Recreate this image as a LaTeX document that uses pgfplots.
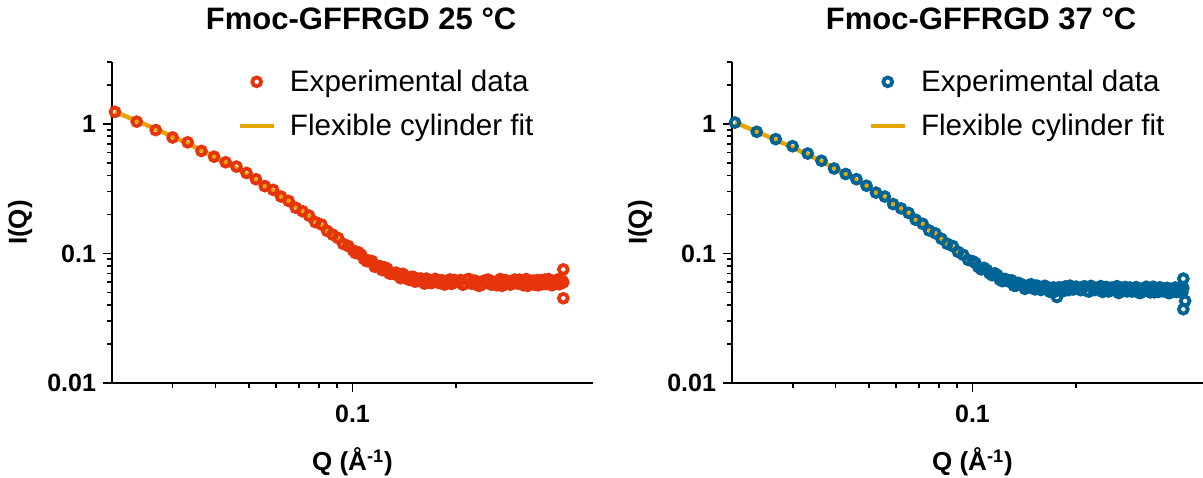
\documentclass[border=0pt]{standalone}
\usepackage{fontspec}
\setmainfont{Liberation Sans}
\usepackage{pgfplots}
\usepackage{pgfplotstable}
\pgfplotsset{compat=1.18}
\definecolor{expred}{RGB}{230,52,12}
\definecolor{expblue}{RGB}{0,100,150}
\definecolor{fitgold}{RGB}{230,165,0}
\pgfdeclareplotmark{ring}{%
  \pgfsetlinewidth{1.9pt}%
  \pgfpathcircle{\pgfpointorigin}{\pgfplotmarksize}%
  \pgfusepathqstroke}

\pgfplotstableread{
Q I fit
0.0204 1.237 1.239
0.0236 1.040 1.055
0.0268 0.895 0.9122
0.0300 0.785 0.7982
0.0332 0.720 0.7044
0.0364 0.618 0.6258
0.0396 0.558 0.5590
0.0428 0.505 0.5013
0.0460 0.468 0.4512
0.0492 0.418 0.4073
0.0524 0.3739 0.3684
0.0556 0.3307 0.3340
0.0588 0.3095 0.3034
0.0620 0.2748 0.2762
0.0652 0.2542 0.2517
0.0684 0.2253 0.2299
0.0716 0.2115 0.2104
0.0748 0.1958 0.1929
0.0780 0.1745 0.1772
0.0812 0.1673 0.1632
0.0844 0.1492 0.1507
0.0876 0.1395 0.1395
0.0908 0.1315 0.1296
0.0940 0.1184 0.1208
0.0972 0.1140 0.1129
0.1004 0.1055 0.1060
0.104 0.1021 0.0991
0.108 0.0907 0.0926
0.112 0.0879 0.0870
0.116 0.0790 0.0823
0.120 0.0799 0.0783
0.124 0.0780 0.0750
0.128 0.0700 0.0722
0.132 0.0706 0.0699
0.136 0.0672 0.0679
0.140 0.0696 0.0663
0.144 0.0637 0.0650
0.148 0.0659 0.0640
0.152 0.0606 0.0631
0.156 0.0636 0.0624
0.160 0.0619 0.0619
0.164 0.0639 0.0614
0.168 0.0593 0.0611
0.172 0.0614 0.0608
0.176 0.0623 0.0605
0.180 0.0592 0.0604
0.184 0.0578 0.0602
0.188 0.0613 0.0601
0.192 0.0630 0.0600
0.196 0.0594 0.0600
0.200 0.0605 0.0599
0.206 0.0623 0.0599
0.212 0.0581 0.0599
0.218 0.0635 0.0599
0.224 0.0587 0.0599
0.230 0.0605 0.0599
0.236 0.0568 0.0598
0.242 0.0616 0.0598
0.248 0.0628 0.0598
0.254 0.0574 0.0598
0.260 0.0598 0.0598
0.266 0.0610 0.0598
0.272 0.0562 0.0598
0.278 0.0622 0.0598
0.284 0.0604 0.0598
0.290 0.0580 0.0598
0.296 0.0628 0.0598
0.302 0.0586 0.0598
0.308 0.0616 0.0598
0.314 0.0568 0.0598
0.320 0.0634 0.0598
0.326 0.0592 0.0598
0.332 0.0610 0.0598
0.338 0.0574 0.0598
0.344 0.0622 0.0598
0.350 0.0598 0.0598
0.356 0.0580 0.0598
0.362 0.0628 0.0598
0.368 0.0586 0.0598
0.374 0.0616 0.0598
0.380 0.0568 0.0598
0.386 0.0604 0.0598
0.392 0.0622 0.0598
0.398 0.0580 0.0598
0.404 0.0610 0.0598
0.410 0.0598 0.0598
}\leftdata

\pgfplotstableread{
Q I
0.102 0.1007
0.106 0.0977
0.110 0.0871
0.114 0.0871
0.118 0.0795
0.122 0.0743
0.126 0.0765
0.130 0.0696
0.134 0.0710
0.138 0.0644
0.142 0.0669
0.146 0.0626
0.150 0.0660
0.154 0.0614
0.158 0.0640
0.162 0.0585
0.166 0.0624
0.170 0.0591
0.174 0.0636
0.178 0.0592
0.182 0.0621
0.186 0.0577
0.190 0.0606
0.194 0.0582
0.198 0.0623
0.209 0.0574
0.215 0.0628
0.221 0.0586
0.227 0.0616
0.233 0.0562
0.239 0.0610
0.245 0.0622
0.251 0.0580
0.257 0.0604
0.263 0.0568
0.269 0.0634
0.275 0.0586
0.281 0.0616
0.287 0.0574
0.293 0.0610
0.299 0.0592
0.305 0.0628
0.311 0.0580
0.317 0.0622
0.323 0.0562
0.329 0.0604
0.335 0.0616
0.341 0.0586
0.347 0.0568
0.353 0.0622
0.359 0.0610
0.365 0.0580
0.371 0.0634
0.377 0.0574
0.383 0.0604
0.389 0.0586
0.395 0.0628
0.401 0.0580
0.407 0.0616
0.410 0.0753
0.410 0.0451
}\leftextra

\pgfplotstableread{
Q I fit
0.0204 1.023 1.0246
0.0236 0.868 0.8710
0.0268 0.762 0.7519
0.0300 0.672 0.6565
0.0332 0.590 0.5782
0.0364 0.519 0.5124
0.0396 0.452 0.4566
0.0428 0.410 0.4084
0.0460 0.374 0.3667
0.0492 0.333 0.3300
0.0524 0.2947 0.2977
0.0556 0.2746 0.2692
0.0588 0.2402 0.2439
0.0620 0.2225 0.2214
0.0652 0.2054 0.2014
0.0684 0.1818 0.1836
0.0716 0.1694 0.1677
0.0748 0.1504 0.1535
0.0780 0.1430 0.1409
0.0812 0.1298 0.1298
0.0844 0.1187 0.1199
0.0876 0.1139 0.1111
0.0908 0.1028 0.1033
0.0940 0.0975 0.0965
0.0972 0.0890 0.0904
0.1004 0.0868 0.0851
0.104 0.0784 0.0800
0.108 0.0774 0.0751
0.112 0.0703 0.0710
0.116 0.0703 0.0676
0.120 0.0628 0.0647
0.124 0.0636 0.0624
0.128 0.0604 0.0604
0.132 0.0564 0.0588
0.136 0.0592 0.0575
0.140 0.0571 0.0565
0.144 0.0545 0.0556
0.148 0.0578 0.0550
0.152 0.0528 0.0544
0.156 0.0551 0.0540
0.160 0.0531 0.0536
0.164 0.0555 0.0534
0.168 0.0505 0.0532
0.172 0.0546 0.0530
0.176 0.0461 0.0530
0.180 0.0543 0.0532
0.184 0.0513 0.0534
0.188 0.0541 0.0536
0.192 0.0564 0.0537
0.196 0.0527 0.0538
0.200 0.0554 0.0538
0.206 0.0521 0.0537
0.212 0.0557 0.0536
0.218 0.0508 0.0535
0.224 0.0545 0.0534
0.230 0.0533 0.0533
0.236 0.0559 0.0532
0.242 0.0520 0.0531
0.248 0.0509 0.0530
0.254 0.0545 0.0529
0.260 0.0533 0.0528
0.266 0.0495 0.0527
0.272 0.0542 0.0526
0.278 0.0551 0.0525
0.284 0.0515 0.0525
0.290 0.0508 0.0524
0.296 0.0544 0.0523
0.302 0.0523 0.0523
0.308 0.0496 0.0522
0.314 0.0532 0.0522
0.320 0.0553 0.0522
0.326 0.0506 0.0522
0.332 0.0527 0.0522
0.338 0.0501 0.0522
0.344 0.0537 0.0521
0.350 0.0547 0.0521
0.356 0.0511 0.0521
0.362 0.0516 0.0521
0.368 0.0542 0.0521
0.374 0.0495 0.0521
0.380 0.0531 0.0521
0.386 0.0536 0.0520
0.392 0.0504 0.0520
0.398 0.0525 0.0520
0.404 0.0510 0.0520
0.410 0.0541 0.0520
}\rightdata

\pgfplotstableread{
Q I
0.102 0.0843
0.106 0.0753
0.110 0.0746
0.114 0.0679
0.118 0.0682
0.122 0.0611
0.126 0.0626
0.130 0.0620
0.134 0.0565
0.138 0.0581
0.142 0.0533
0.146 0.0570
0.150 0.0536
0.154 0.0564
0.158 0.0522
0.162 0.0562
0.166 0.0522
0.170 0.0536
0.174 0.0509
0.178 0.0547
0.182 0.0522
0.186 0.0556
0.190 0.0521
0.194 0.0549
0.198 0.0533
0.209 0.0552
0.215 0.0514
0.221 0.0561
0.227 0.0522
0.233 0.0537
0.239 0.0504
0.245 0.0551
0.251 0.0513
0.257 0.0539
0.263 0.0559
0.269 0.0505
0.275 0.0530
0.281 0.0509
0.287 0.0545
0.293 0.0513
0.299 0.0549
0.305 0.0496
0.311 0.0532
0.317 0.0517
0.323 0.0538
0.329 0.0501
0.335 0.0553
0.341 0.0512
0.347 0.0505
0.353 0.0542
0.359 0.0516
0.365 0.0537
0.371 0.0495
0.377 0.0531
0.383 0.0505
0.389 0.0546
0.395 0.0510
0.401 0.0525
0.407 0.0499
0.410 0.0639
0.410 0.0371
0.415 0.0430
}\rightextra

\begin{document}
\begin{tikzpicture}
\begin{axis}[
  xmode=log, ymode=log,
  scale only axis, width=240.5pt, height=160.5pt,
  at={(56pt,47pt)}, anchor=south west,
  xmin=0.02, xmax=0.5, ymin=0.01, ymax=3,
  clip=false,
  axis x line*=bottom, axis y line*=left,
  axis line style={line width=1pt},
  xtick={0.1}, xticklabels={0.1},
  minor xtick={0.03,0.04,0.05,0.06,0.07,0.08,0.09,0.2},
  ytick={0.01,0.1,1}, yticklabels={0.01,0.1,1},
  minor ytick={0.02,0.03,0.04,0.05,0.06,0.07,0.08,0.09,0.2,0.3,0.4,0.5,0.6,0.7,0.8,0.9,2,3},
  tick align=outside, major tick length=4.5pt, minor tick length=2.5pt,
  tick style={line width=0.9pt, black},
  tick label style={font=\bfseries\fontsize{12.5}{13}\selectfont},
  xticklabel style={yshift=-3pt},
  title={Fmoc-GFFRGD 25 °C},
  title style={at={(axis description cs:0.518,1.097)}, anchor=center, yshift=0pt,
    font=\bfseries\fontsize{15.5}{16}\selectfont},
  xlabel={Q (Å\textsuperscript{-1})},
  ylabel={I(Q)},
  xlabel style={at={(axis description cs:0.5,-0.246)}, anchor=center,
    font=\bfseries\fontsize{13}{13}\selectfont},
  ylabel style={at={(axis description cs:-0.191,0.5)}, anchor=center,
    font=\bfseries\fontsize{13}{13}\selectfont},
  legend style={draw=none, fill=none, at={(axis description cs:0.26,0.99)},
    anchor=north west, inner sep=0pt,
    font=\fontsize{14.8}{15}\selectfont, row sep=6pt,
    /tikz/every odd column/.append style={column sep=5pt}},
  legend cell align=left,
]
\addplot[only marks, mark=ring, mark size=2.2pt, color=expred]
  table[x=Q, y=I] {\leftdata};
\addlegendentry{Experimental data}
\addplot[only marks, mark=ring, mark size=2.2pt, color=expred, forget plot]
  table[x=Q, y=I] {\leftextra};
\addplot[color=fitgold, line width=2.2pt, no marks] table[x=Q, y=fit] {\leftdata};
\addlegendentry{Flexible cylinder fit}
\end{axis}
\begin{axis}[
  xmode=log, ymode=log,
  scale only axis, width=240.5pt, height=160.5pt,
  at={(366pt,47pt)}, anchor=south west,
  xmin=0.02, xmax=0.5, ymin=0.01, ymax=3,
  clip=false,
  axis x line*=bottom, axis y line*=left,
  axis line style={line width=1pt},
  xtick={0.1}, xticklabels={0.1},
  minor xtick={0.03,0.04,0.05,0.06,0.07,0.08,0.09,0.2},
  ytick={0.01,0.1,1}, yticklabels={0.01,0.1,1},
  minor ytick={0.02,0.03,0.04,0.05,0.06,0.07,0.08,0.09,0.2,0.3,0.4,0.5,0.6,0.7,0.8,0.9,2,3},
  tick align=outside, major tick length=4.5pt, minor tick length=2.5pt,
  tick style={line width=0.9pt, black},
  tick label style={font=\bfseries\fontsize{12.5}{13}\selectfont},
  xticklabel style={yshift=-3pt},
  title={Fmoc-GFFRGD 37 °C},
  title style={at={(axis description cs:0.518,1.097)}, anchor=center, yshift=0pt,
    font=\bfseries\fontsize{15.5}{16}\selectfont},
  xlabel={Q (Å\textsuperscript{-1})},
  ylabel={I(Q)},
  xlabel style={at={(axis description cs:0.5,-0.246)}, anchor=center,
    font=\bfseries\fontsize{13}{13}\selectfont},
  ylabel style={at={(axis description cs:-0.191,0.5)}, anchor=center,
    font=\bfseries\fontsize{13}{13}\selectfont},
  legend style={draw=none, fill=none, at={(axis description cs:0.283,0.99)},
    anchor=north west, inner sep=0pt,
    font=\fontsize{14.8}{15}\selectfont, row sep=6pt,
    /tikz/every odd column/.append style={column sep=5pt}},
  legend cell align=left,
]
\addplot[only marks, mark=ring, mark size=2.2pt, color=expblue]
  table[x=Q, y=I] {\rightdata};
\addlegendentry{Experimental data}
\addplot[only marks, mark=ring, mark size=2.2pt, color=expblue, forget plot]
  table[x=Q, y=I] {\rightextra};
\addplot[color=fitgold, line width=2.2pt, no marks] table[x=Q, y=fit] {\rightdata};
\addlegendentry{Flexible cylinder fit}
\end{axis}
\pgfresetboundingbox
\path[use as bounding box] (0pt,0pt) rectangle (601.5pt,238.5pt);
\end{tikzpicture}
\end{document}
